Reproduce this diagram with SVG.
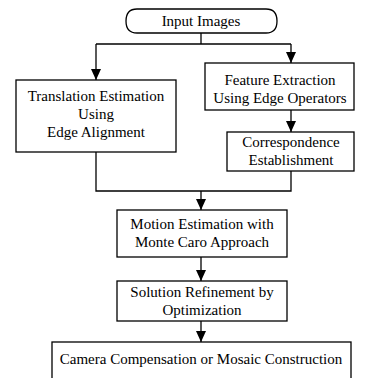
<svg xmlns="http://www.w3.org/2000/svg" width="368" height="378" viewBox="0 0 368 378">
<defs>
<marker id="ah" markerWidth="11" markerHeight="10" refX="11" refY="5" orient="auto" markerUnits="userSpaceOnUse" viewBox="0 0 11 10">
<path d="M0,0 L11,5 L0,10 Z" fill="#000"/>
</marker>
</defs>
<style>
.b{fill:#fff;stroke:#000;stroke-width:1.3}
.t{font-family:'Liberation Serif','Times New Roman',serif;font-size:15px;fill:#000;text-anchor:middle}
.c{fill:none;stroke:#000;stroke-width:1.3}
</style>
<rect width="368" height="378" fill="#fff"/>
<g id="connectors">
<path class="c" d="M201,33 V44"/>
<path class="c" d="M96,44 H291"/>
<path class="c" d="M96,44 V80" marker-end="url(#ah)"/>
<path class="c" d="M291,44 V63" marker-end="url(#ah)"/>
<path class="c" d="M291,110 V132" marker-end="url(#ah)"/>
<path class="c" d="M96,152 V191 H291 V171"/>
<path class="c" d="M201,191 V210" marker-end="url(#ah)"/>
<path class="c" d="M201,257 V281" marker-end="url(#ah)"/>
<path class="c" d="M201,321 V342" marker-end="url(#ah)"/>
</g>
<g id="input">
<path class="b" d="M137,9 H266 Q277,9 277,21 Q277,33 266,33 H137 Q126,33 126,21 Q126,9 137,9 Z"/>
<text class="t" x="201" y="26">Input Images</text>
</g>
<g id="translation">
<rect class="b" x="16" y="80" width="160" height="72"/>
<text class="t" x="96" y="101">Translation Estimation</text>
<text class="t" x="96" y="119">Using</text>
<text class="t" x="96" y="137">Edge Alignment</text>
</g>
<g id="feature">
<rect class="b" x="205" y="63" width="149" height="47"/>
<text class="t" x="280" y="85">Feature Extraction</text>
<text class="t" x="280" y="103">Using Edge Operators</text>
</g>
<g id="correspondence">
<rect class="b" x="227" y="132" width="127" height="39"/>
<text class="t" x="291" y="147">Correspondence</text>
<text class="t" x="291" y="165">Establishment</text>
</g>
<g id="motion">
<rect class="b" x="117" y="210" width="170" height="47"/>
<text class="t" x="202" y="229">Motion Estimation with</text>
<text class="t" x="202" y="247">Monte Caro Approach</text>
</g>
<g id="solution">
<rect class="b" x="117" y="281" width="170" height="40"/>
<text class="t" x="202" y="297">Solution Refinement by</text>
<text class="t" x="202" y="315">Optimization</text>
</g>
<g id="camera">
<rect class="b" x="52" y="342" width="299" height="50"/>
<text class="t" x="201" y="364">Camera Compensation or Mosaic Construction</text>
</g>
</svg>
